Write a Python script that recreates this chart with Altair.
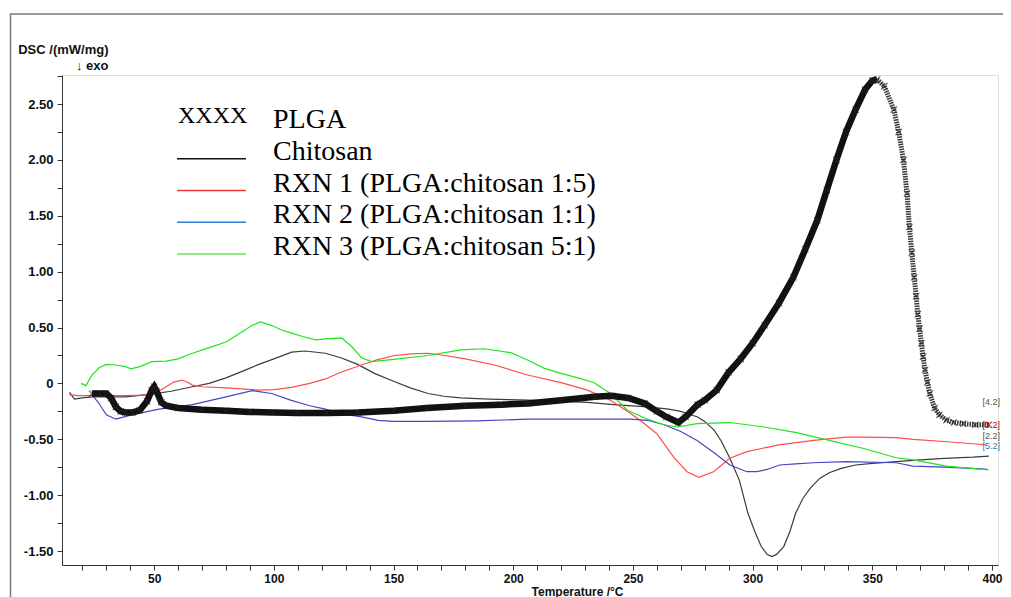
import altair as alt
import pandas as pd

# ---------------- data ----------------
PLGA_T = [24, 27, 30, 32, 34, 36, 38, 41, 44, 47, 49, 50, 51, 53, 55, 60, 70, 80, 90, 100,
          110, 122, 135, 150, 164, 180, 195, 206, 220, 234, 241, 248, 255, 260, 264, 269,
          272, 277, 280, 285, 290, 295, 300, 305, 311, 317, 322, 327, 331, 335, 339, 343,
          347, 350, 352, 355, 359, 361, 363, 364.5, 365.5, 366.5, 367.5, 368.3, 369, 369.7,
          370.5, 371.2, 372, 373, 374, 376, 378, 381, 384, 388, 393, 398.7]
PLGA_V = [-0.09, -0.09, -0.09, -0.13, -0.21, -0.25, -0.26, -0.26, -0.24, -0.16, -0.06, -0.03,
          -0.07, -0.17, -0.20, -0.22, -0.235, -0.245, -0.255, -0.26, -0.265, -0.265, -0.26,
          -0.245, -0.22, -0.20, -0.19, -0.18, -0.15, -0.12, -0.11, -0.13, -0.18, -0.25, -0.30,
          -0.35, -0.30, -0.19, -0.15, -0.06, 0.10, 0.22, 0.36, 0.52, 0.72, 0.95, 1.20, 1.46,
          1.73, 2.00, 2.25, 2.45, 2.63, 2.71, 2.72, 2.66, 2.45, 2.25, 2.00, 1.70, 1.40, 1.17,
          0.95, 0.78, 0.62, 0.49, 0.36, 0.24, 0.12, 0.01, -0.09, -0.22, -0.28, -0.33, -0.35,
          -0.36, -0.37, -0.37]

CHI_T = [14.6, 16.7, 20, 24, 38, 49, 57, 66, 73, 80, 87, 93.7, 100, 107.4, 113, 121.5, 128,
         135, 142, 150.5, 157, 164.4, 171, 178, 190, 206, 220, 231, 242, 256, 265, 270, 277,
         280, 284, 287, 290.5, 294.5, 298, 301, 303.6, 306, 308, 310, 313, 315.5, 318, 321,
         324, 328, 332, 337, 343, 350, 360, 370, 380, 392, 398.7]
CHI_V = [-0.08, -0.14, -0.13, -0.12, -0.12, -0.095, -0.07, -0.03, 0.0, 0.05, 0.11, 0.17, 0.22,
         0.28, 0.29, 0.27, 0.23, 0.17, 0.09, 0.015, -0.04, -0.09, -0.115, -0.13, -0.14, -0.15,
         -0.16, -0.17, -0.19, -0.21, -0.23, -0.25, -0.30, -0.34, -0.42, -0.52, -0.67, -0.87,
         -1.16, -1.33, -1.46, -1.53, -1.55, -1.53, -1.46, -1.33, -1.16, -1.03, -0.94, -0.85,
         -0.80, -0.76, -0.73, -0.715, -0.70, -0.685, -0.67, -0.66, -0.65]

RXN1_T = [14.6, 18, 24, 38, 45, 49, 52, 55, 58, 61.6, 64, 66, 70, 80, 93.7, 100, 107.4, 115,
          121.5, 128, 136.6, 143, 150.5, 157, 164.4, 171.4, 180, 192.2, 206, 220, 231, 240.6,
          247.7, 253, 260, 267, 272.6, 277.5, 283.7, 290.5, 297.6, 311, 325.5, 339, 346, 360,
          367, 380, 392, 397.5]
RXN1_V = [-0.10, -0.11, -0.11, -0.11, -0.105, -0.095, -0.07, -0.03, 0.01, 0.03, 0.01, -0.015,
          -0.03, -0.04, -0.06, -0.055, -0.035, 0.0, 0.04, 0.10, 0.165, 0.21, 0.25, 0.265, 0.27,
          0.25, 0.22, 0.165, 0.075, 0.007, -0.06, -0.15, -0.25, -0.33, -0.45, -0.66, -0.79,
          -0.84, -0.79, -0.67, -0.61, -0.55, -0.51, -0.48, -0.48, -0.485, -0.50, -0.52, -0.54,
          -0.55]

RXN2_T = [24, 27, 30, 34, 41, 52, 66, 80, 91, 99, 107, 115, 121.5, 128, 136.6, 143.6, 150,
          164.4, 185, 206, 230, 249, 256, 263, 270, 276.8, 283.9, 290.5, 297.6, 301.8, 306,
          311.3, 318, 325.5, 339, 360, 367, 380, 392, 398]
RXN2_V = [-0.10, -0.18, -0.28, -0.32, -0.28, -0.23, -0.19, -0.12, -0.065, -0.09, -0.15, -0.20,
          -0.23, -0.27, -0.30, -0.33, -0.34, -0.34, -0.335, -0.32, -0.32, -0.32, -0.33, -0.37,
          -0.43, -0.51, -0.62, -0.73, -0.79, -0.79, -0.77, -0.73, -0.72, -0.71, -0.70, -0.71,
          -0.74, -0.75, -0.76, -0.77]

RXN3_T = [19.5, 21.5, 24, 27, 30, 34, 38, 40.3, 44, 49, 55, 60, 66, 73, 80, 86.6, 91, 94.4,
          99, 103, 107.4, 112, 117.4, 122.8, 128.4, 132.5, 136.6, 140.8, 150, 164.4, 178, 188,
          199, 206, 213, 220, 227, 233.8, 240.6, 247.7, 256, 263, 268.5, 276.8, 290.5, 304.7,
          318.4, 332, 346, 360, 367, 381, 398.7]
RXN3_V = [0.0, -0.02, 0.075, 0.14, 0.17, 0.165, 0.15, 0.13, 0.15, 0.195, 0.20, 0.22, 0.27,
          0.32, 0.37, 0.46, 0.52, 0.55, 0.52, 0.48, 0.45, 0.42, 0.39, 0.40, 0.405, 0.33, 0.23,
          0.195, 0.215, 0.25, 0.30, 0.31, 0.275, 0.21, 0.135, 0.09, 0.05, 0.006, -0.09, -0.24,
          -0.32, -0.37, -0.39, -0.36, -0.35, -0.39, -0.44, -0.51, -0.58, -0.665, -0.685, -0.74,
          -0.775]

SERIES = ["Chitosan", "RXN 1 (PLGA:chitosan 1:5)", "RXN 2 (PLGA:chitosan 1:1)",
          "RXN 3 (PLGA:chitosan 5:1)"]
CURVE_COLORS = ["#3c3c3c", "#ff4c4c", "#4646c2", "#1fe51f"]

LEGEND_LABELS = ["PLGA", "Chitosan", "RXN 1 (PLGA:chitosan 1:5)", "RXN 2 (PLGA:chitosan 1:1)",
                 "RXN 3 (PLGA:chitosan 5:1)"]
LEGEND_LINE_COLORS = ["#111111", "#f03a3a", "#2a80d6", "#6ee05a"]

X_TICKS = list(range(20, 401, 10))
Y_TICKS = [-1.5 + 0.25 * i for i in range(18)]

END_LABELS = ["[4.2]", "[3.2]", "[2.2]", "[5.2]"]
END_LABEL_V = [-0.17, -0.37, -0.47, -0.56]
END_LABEL_COLORS = ["#555555", "#cc0000", "#555555", "#2a7ab0"]

PEAK_T = 352

# ---------------- tables ----------------
rows = []
for name, ts, vs in zip(SERIES, [CHI_T, RXN1_T, RXN2_T, RXN3_T], [CHI_V, RXN1_V, RXN2_V, RXN3_V]):
    for t, v in zip(ts, vs):
        rows.append({"series": name, "T": t, "v": v})
curves = pd.DataFrame(rows)
plga = pd.DataFrame({"T": PLGA_T, "v": PLGA_V})
ends = pd.DataFrame({"lab": END_LABELS, "T": [400] * 4, "v": END_LABEL_V, "c": END_LABEL_COLORS})
one = pd.DataFrame({"k": [0]})

W, H = 936, 490
SANS = "Liberation Sans"
SERIF = "Liberation Serif"

x_axis = alt.Axis(
    values=X_TICKS,
    labelExpr="datum.value % 50 == 0 ? datum.label : ''",
    title="Temperature /°C", titleX=515, titleY=21, titleBaseline="top", titleAlign="center",
    titleFont=SANS, titleFontSize=12, titleFontWeight="bold", titleColor="#111",
    labelFont=SANS, labelFontSize=12, labelFontWeight="bold", labelColor="#111",
    tickSize=5, labelPadding=3, domainColor="#333", tickColor="#333", grid=False,
    labelOverlap=False,
)
y_axis = alt.Axis(
    values=Y_TICKS,
    labelExpr="datum.value == 0 ? '0' : (abs(datum.value * 2 - round(datum.value * 2)) < 0.001 ? "
              "((datum.value < 0 ? '-' : '') + format(abs(datum.value), '.2f')) : '')",
    title=["DSC /(mW/mg)", "↓  exo"], titleAngle=0, titleAlign="right", titleBaseline="alphabetic",
    titleX=46, titleY=-22, titleLineHeight=16,
    titleFont=SANS, titleFontSize=13, titleFontWeight="bold", titleColor="#111",
    labelFont=SANS, labelFontSize=13, labelFontWeight="bold", labelColor="#111",
    tickSize=5, labelPadding=4, domainColor="#333", tickColor="#333", grid=False,
    labelOverlap=False,
)
xs = alt.Scale(domain=[11.5, 402.5], nice=False, zero=False)
ys = alt.Scale(domain=[-1.625, 2.76], nice=False, zero=False)
X = alt.X("T:Q", scale=xs, axis=x_axis)
Y = alt.Y("v:Q", scale=ys, axis=y_axis)

frame = alt.Chart(one).mark_rect(fillOpacity=0, stroke="#7a7a7a", strokeWidth=1.5).encode(
    x=alt.value(-51.5), x2=alt.value(980), y=alt.value(-61), y2=alt.value(560)
)

thin = alt.Chart(curves).mark_line(strokeWidth=1.2).encode(
    x=X, y=Y,
    color=alt.Color("series:N", scale=alt.Scale(domain=SERIES, range=CURVE_COLORS), legend=None),
    detail="series:N",
)

band_up = alt.Chart(plga).transform_filter(alt.datum.T <= PEAK_T).mark_line(
    color="#111111", strokeWidth=6.5).encode(x=X, y=Y)
band_down = alt.Chart(plga).transform_filter(alt.datum.T >= PEAK_T).mark_line(
    color="#3a3a3a", strokeWidth=5, strokeDash=[1.5, 1]).encode(x=X, y=Y)
xmarks = alt.Chart(plga).mark_point(
    shape="M-1,-1L1,1M-1,1L1,-1", filled=False, size=40, strokeWidth=1.1, color="#222222"
).encode(x=X, y=Y)

endtext = alt.Chart(ends).mark_text(font=SANS, fontSize=9, dx=8, align="right").encode(
    x=X, y=Y, text="lab:N", color=alt.Color("c:N", scale=None)
)

# ---------------- manual legend ----------------
leg_layers = []
leg_layers.append(
    alt.Chart(one).mark_text(text="XXXX", font=SERIF, fontSize=24, align="left",
                             baseline="alphabetic", color="#000").encode(
        x=alt.value(116), y=alt.value(48))
)
base_y = 53
step = 31.75
for i, lab in enumerate(LEGEND_LABELS):
    leg_layers.append(
        alt.Chart(one).mark_text(text=lab, font=SERIF, fontSize=28, align="left",
                                 baseline="alphabetic", color="#000").encode(
            x=alt.value(211), y=alt.value(base_y + i * step))
    )
for i, col in enumerate(LEGEND_LINE_COLORS):
    yy = base_y + (i + 1) * step - 1
    leg_layers.append(
        alt.Chart(one).mark_rule(color=col, strokeWidth=1.5).encode(
            x=alt.value(115), x2=alt.value(184), y=alt.value(yy))
    )

chart = alt.layer(frame, thin, band_up, band_down, xmarks, endtext, *leg_layers).properties(
    width=W, height=H,
    autosize=alt.AutoSizeParams(type="none"),
    padding={"left": 54, "top": 67, "right": 5, "bottom": 32},
).configure_view(stroke=None).configure(background="white")

chart.save("out.html", embed_options={"renderer": "svg", "actions": False})
